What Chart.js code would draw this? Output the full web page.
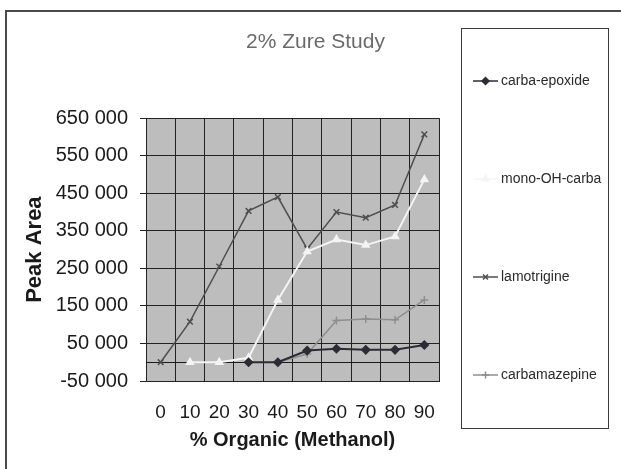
<!DOCTYPE html>
<html>
<head>
<meta charset="utf-8">
<script src="https://cdn.jsdelivr.net/npm/chart.js@4.4.1/dist/chart.umd.min.js"></script>
<style>
  html, body { margin: 0; padding: 0; background: #fff; }
  #wrap { width: 621px; height: 469px; }
</style>
</head>
<body>
<div id="wrap"><canvas id="chart" width="621" height="469"></canvas></div>
<script>
// ── data ──
const categories    = ['0', '10', '20', '30', '40', '50', '60', '70', '80', '90'];
const carbaEpoxide  = [null, null, null, 0, 0, 31000, 36000, 33000, 33000, 46000];
const monoOHCarba   = [null, 0, 0, 12000, 166000, 295000, 327000, 312000, 335000, 487000];
const lamotrigine   = [0, 108000, 255000, 403000, 440000, 302000, 400000, 385000, 419000, 607000];
const carbamazepine = [null, null, null, null, 0, 22000, 111000, 115000, 113000, 166000];
const seriesNames   = ['carba-epoxide', 'mono-OH-carba', 'lamotrigine', 'carbamazepine'];
const yMin = -50000, yMax = 650000, yStep = 100000;

const FONT = '"Liberation Sans", Arial, sans-serif';

// ── helpers ──
const spaced = v => String(v).replace(/\B(?=(\d{3})+(?!\d))/g, ' ');

function series(label, data, color, style, width) {
  return {
    label, data,
    borderColor: color,
    backgroundColor: color,
    pointBackgroundColor: color,
    pointBorderColor: color,
    pointStyle: style,
    pointRadius: 4,
    pointBorderWidth: 1.5,
    borderWidth: width,
    tension: 0,
    spanGaps: false,
  };
}

// ── plugins ──
const chartBack = {
  id: 'chartBack',
  beforeDraw(chart) {
    const { ctx, chartArea: a } = chart;
    ctx.save();
    ctx.fillStyle = '#fff';
    ctx.fillRect(0, 0, chart.width, chart.height);
    ctx.strokeStyle = '#4a4a4a';
    ctx.lineWidth = 2;
    ctx.strokeRect(6, 11, chart.width + 10, chart.height + 10);
    ctx.fillStyle = '#bdbdbd';
    ctx.fillRect(a.left, a.top, a.right - a.left, a.bottom - a.top);
    ctx.restore();
  }
};

const zeroLine = {
  id: 'zeroLine',
  beforeDatasetsDraw(chart) {
    const { ctx, chartArea: a, scales } = chart;
    const y = Math.round(scales.y.getPixelForValue(0)) + 0.5;
    ctx.save();
    ctx.strokeStyle = '#1a1a1a';
    ctx.lineWidth = 1;
    ctx.beginPath();
    ctx.moveTo(a.left, y);
    ctx.lineTo(a.right, y);
    ctx.stroke();
    ctx.restore();
  }
};

const boxLegend = {
  id: 'boxLegend',
  afterDraw(chart) {
    const ctx = chart.ctx;
    const x0 = 461, y0 = 28, w = 147, h = 400;
    ctx.save();
    ctx.strokeStyle = '#3a3a3a';
    ctx.lineWidth = 1;
    ctx.strokeRect(x0 + 0.5, y0 + 0.5, w, h);
    ctx.font = '14px ' + FONT;
    ctx.textBaseline = 'middle';
    ctx.textAlign = 'left';
    chart.data.datasets.forEach((ds, i) => {
      const y = y0 + 53 + i * 98;
      ctx.strokeStyle = ds.borderColor;
      ctx.lineWidth = Math.min(ds.borderWidth, 1.5);
      ctx.beginPath();
      ctx.moveTo(x0 + 12, y);
      ctx.lineTo(x0 + 37, y);
      ctx.stroke();
      ctx.fillStyle = ds.pointBackgroundColor;
      ctx.strokeStyle = ds.pointBorderColor;
      Chart.helpers.drawPoint(ctx, { pointStyle: ds.pointStyle, radius: 3.5, borderWidth: 1, rotation: 0 }, x0 + 24.5, y);
      ctx.fillStyle = '#2a2a2a';
      ctx.fillText(ds.label, x0 + 40, y);
    });
    ctx.restore();
  }
};

// ── chart ──
new Chart(document.getElementById('chart').getContext('2d'), {
  type: 'line',
  data: {
    labels: categories,
    datasets: [
      series(seriesNames[0], carbaEpoxide,  '#2c2c36', 'rectRot', 2),
      series(seriesNames[1], monoOHCarba,   '#f4f4f4', 'triangle', 2),
      series(seriesNames[2], lamotrigine,   '#4f4f4f', 'crossRot', 1.5),
      series(seriesNames[3], carbamazepine, '#8e8e8e', 'cross', 1.5),
    ]
  },
  options: {
    responsive: false,
    animation: false,
    devicePixelRatio: 1,
    layout: { padding: { left: 10, right: 0, top: 0, bottom: 0 } },
    plugins: {
      legend: { display: false },
      tooltip: { enabled: false },
      title: {
        display: true,
        text: '2% Zure Study',
        color: '#6a6a6a',
        font: { family: FONT, size: 21, weight: 'normal' },
        padding: { top: 30, bottom: 63 },
      },
    },
    scales: {
      x: {
        offset: true,
        grid: { offset: true, color: '#222', lineWidth: 1, drawTicks: false },
        border: { color: '#222' },
        ticks: { color: '#1a1a1a', padding: 20, maxRotation: 0, font: { family: FONT, size: 19 } },
        title: {
          display: true,
          text: '% Organic (Methanol)',
          color: '#1a1a1a',
          font: { family: FONT, size: 20, weight: 'bold' },
          padding: { top: 0, bottom: 17 },
        },
        afterFit: s => { s.width = 293; s.height = 88; },
      },
      y: {
        min: yMin, max: yMax,
        grid: { color: '#222', lineWidth: 1, tickLength: 6, tickColor: '#222' },
        border: { color: '#222' },
        ticks: {
          stepSize: yStep, padding: 12, color: '#1a1a1a',
          font: { family: FONT, size: 20 },
          callback: v => spaced(v),
        },
        title: {
          display: true,
          text: 'Peak Area',
          color: '#1a1a1a',
          font: { family: FONT, size: 22, weight: 'bold' },
          padding: { top: 12, bottom: 8 },
        },
        afterFit: s => { s.width = 136; },
      },
      // empty right-hand column that holds the legend box
      side: {
        position: 'right',
        display: true,
        grid: { display: false },
        border: { display: false },
        ticks: { display: false },
        afterFit: s => { s.width = 182; },
      },
    },
  },
  plugins: [chartBack, zeroLine, boxLegend],
});
</script>
</body>
</html>
